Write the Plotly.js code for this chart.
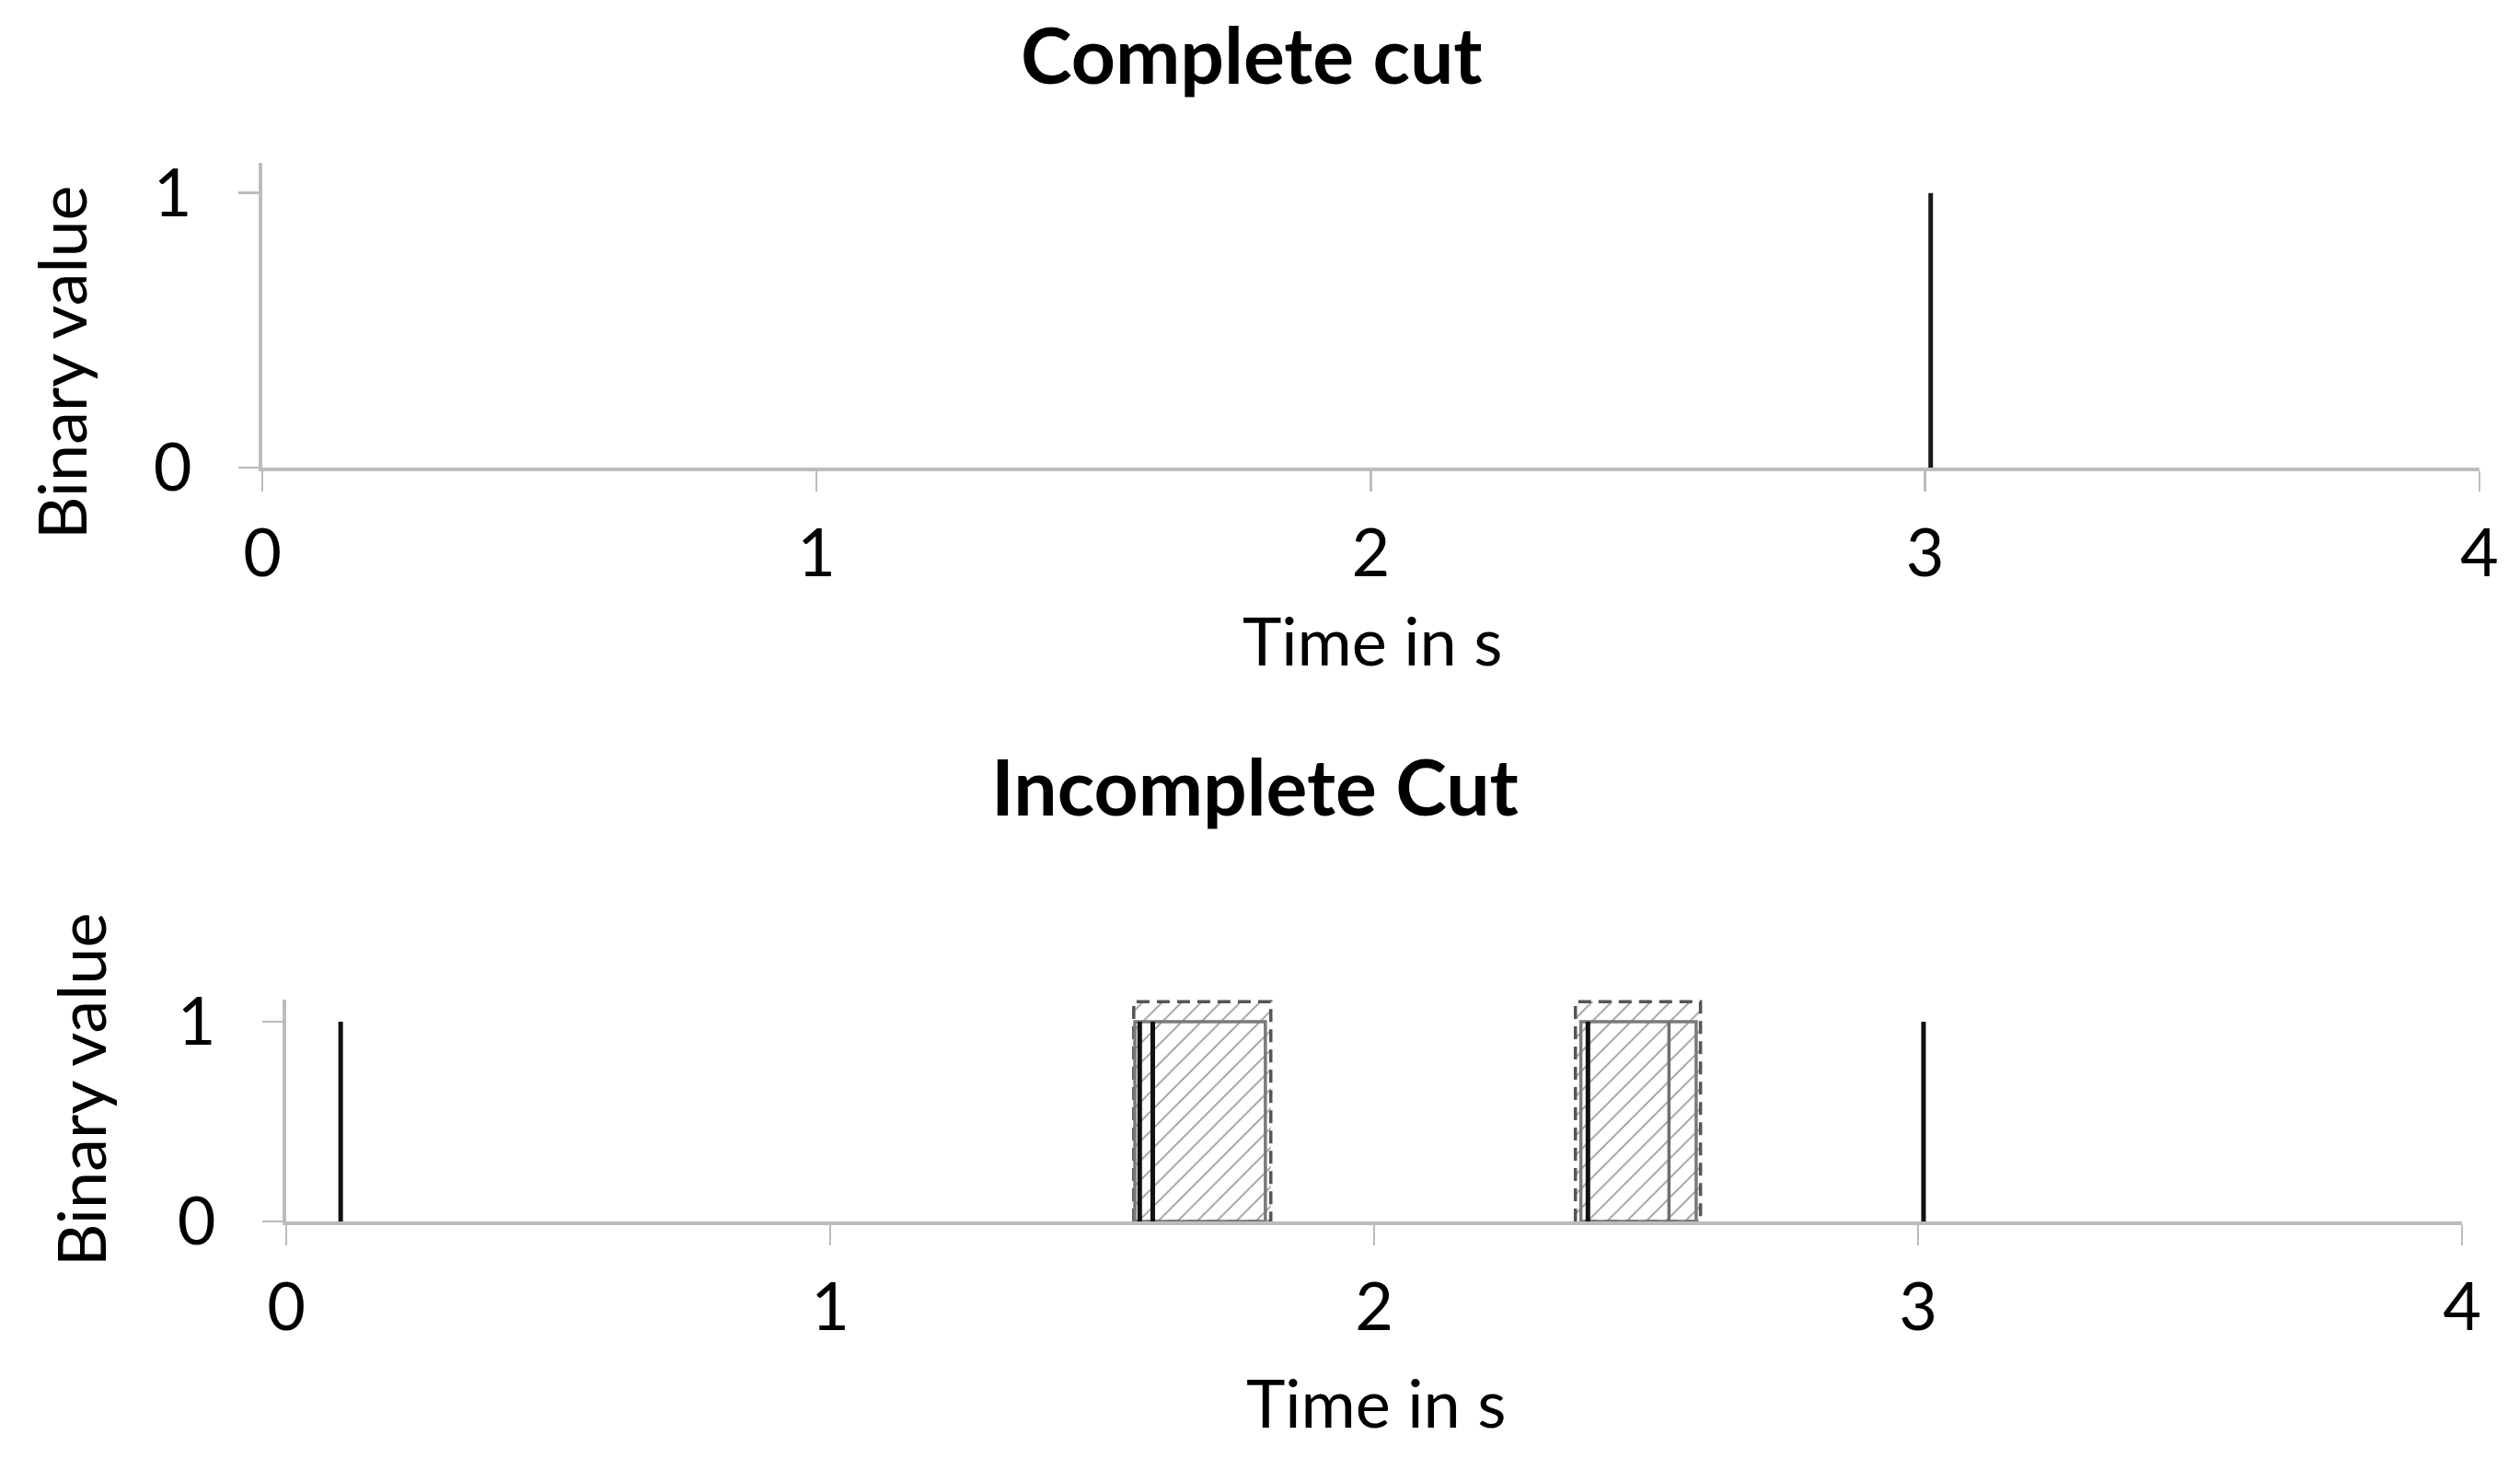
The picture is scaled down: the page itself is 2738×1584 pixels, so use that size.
<!DOCTYPE html>
<html>
<head>
<meta charset="utf-8">
<script src="https://cdn.plot.ly/plotly-3.0.1.min.js"></script>
<style>
  html, body { margin: 0; padding: 0; background: #fff; }
  #chart { width: 2738px; height: 1584px; }
</style>
</head>
<body>
<div id="chart"></div>
<script>
// Complete cut: single pulse
const completeSpikeTimes = [3.01];

// Incomplete cut: black pulses, grey pulse, pulse blocks and dashed windows
const incompleteSpikeTimes = [0.10, 1.569, 1.593, 2.393, 3.01];
const incompleteGreySpikeTimes = [2.542];
const blockStart = [1.560, 2.380];
const blockEnd = [1.800, 2.592];
const blockValue = [1, 1];
const windowStart = [1.558, 2.370];
const windowEnd = [1.810, 2.600];
const windowValue = [1.1, 1.1];

const timeTicks = [0, 1, 2, 3, 4];
const binaryTicks = [0, 1];

const FONT = "Lato, 'Noto Sans', sans-serif";
const AXIS_GREY = "#bcbcbc";

// vertical impulses from 0 to 1, gaps between them
function spikeXY(times) {
    const x = [], y = [];
    times.forEach(t => { x.push(t, t, null); y.push(0, 1, null); });
    return { x, y };
}

// closed rectangles from start/end/height arrays
function boxXY(starts, ends, heights) {
    const x = [], y = [];
    starts.forEach((s, i) => {
        const e = ends[i], h = heights[i];
        x.push(s, s, e, e, s, null);
        y.push(0, h, h, 0, 0, null);
    });
    return { x, y };
}

const topSpikes = spikeXY(completeSpikeTimes);
const botSpikes = spikeXY(incompleteSpikeTimes);
const botGrey = spikeXY(incompleteGreySpikeTimes);
const windows = boxXY(windowStart, windowEnd, windowValue);
const blocks = boxXY(blockStart, blockEnd, blockValue);

const data = [
    {
        x: topSpikes.x, y: topSpikes.y, xaxis: "x", yaxis: "y",
        type: "scatter", mode: "lines", hoverinfo: "skip",
        line: { color: "#1a1a1a", width: 5 },
    },
    {
        x: windows.x, y: windows.y, xaxis: "x2", yaxis: "y2",
        type: "scatter", mode: "lines", fill: "toself", hoverinfo: "skip",
        fillcolor: "rgba(0,0,0,0)",
        fillpattern: { shape: "/", fgcolor: "#9a9a9a", bgcolor: "#ffffff", size: 15, solidity: 0.12 },
        line: { color: "#555555", width: 3.5, dash: "14px,8px" },
    },
    {
        x: blocks.x, y: blocks.y, xaxis: "x2", yaxis: "y2",
        type: "scatter", mode: "lines", hoverinfo: "skip",
        line: { color: "#7a7a7a", width: 3.5 },
    },
    {
        x: botGrey.x, y: botGrey.y, xaxis: "x2", yaxis: "y2",
        type: "scatter", mode: "lines", hoverinfo: "skip",
        line: { color: "#6f6f6f", width: 3.5 },
    },
    {
        x: botSpikes.x, y: botSpikes.y, xaxis: "x2", yaxis: "y2",
        type: "scatter", mode: "lines", hoverinfo: "skip",
        line: { color: "#111111", width: 5 },
    },
];

function xAxis(domain, anchor) {
    return {
        domain: domain, anchor: anchor, range: [0, 4],
        tickvals: timeTicks, ticks: "outside", ticklen: 22, tickwidth: 2.5, tickcolor: AXIS_GREY,
        showline: true, linecolor: AXIS_GREY, linewidth: 4,
        showgrid: false, zeroline: false, fixedrange: true,
        ticklabelstandoff: 6,
        tickfont: { family: FONT, size: 72, color: "#000" },
    };
}

function yAxis(domain, anchor) {
    return {
        domain: domain, anchor: anchor, range: [0, 1.11],
        tickvals: binaryTicks, ticks: "outside", ticklen: 22, tickwidth: 2.5, tickcolor: AXIS_GREY,
        showline: true, linecolor: AXIS_GREY, linewidth: 4,
        showgrid: false, zeroline: false, fixedrange: true,
        ticklabelstandoff: 36,
        tickfont: { family: FONT, size: 72, color: "#000" },
    };
}

// inside half of the crossing y ticks
function yCross(overlay, anchor) {
    return {
        overlaying: overlay, anchor: anchor, range: [0, 1.11],
        tickvals: binaryTicks, ticks: "inside", ticklen: 20, tickwidth: 2.5, tickcolor: AXIS_GREY,
        showticklabels: false, showline: false, showgrid: false, zeroline: false, fixedrange: true,
    };
}

const titleFont = { family: FONT, size: 84, color: "#000", weight: "bold" };
const labelFont = { family: FONT, size: 72, color: "#000" };

const layout = {
    width: 2738, height: 1584,
    margin: { l: 0, r: 0, t: 0, b: 0 },
    paper_bgcolor: "#fff", plot_bgcolor: "#fff",
    showlegend: false,
    xaxis: xAxis([0.1041, 0.9839], "y"),
    yaxis: yAxis([0.6793, 0.8883], "x"),
    xaxis2: xAxis([0.1136, 0.9770], "y2"),
    yaxis2: yAxis([0.1622, 0.3144], "x2"),
    yaxis3: yCross("y", "x"),
    yaxis4: yCross("y2", "x2"),
    annotations: [
        { text: "Complete cut", xref: "paper", yref: "paper", x: 0.4967, y: 0.963,
          xanchor: "center", yanchor: "middle", showarrow: false, font: titleFont },
        { text: "Incomplete Cut", xref: "paper", yref: "paper", x: 0.498, y: 0.461,
          xanchor: "center", yanchor: "middle", showarrow: false, font: titleFont },
        { text: "Time in s", xref: "paper", yref: "paper", x: 0.5446, y: 0.5615,
          xanchor: "center", yanchor: "middle", showarrow: false, font: labelFont },
        { text: "Time in s", xref: "paper", yref: "paper", x: 0.546, y: 0.0385,
          xanchor: "center", yanchor: "middle", showarrow: false, font: labelFont },
        { text: "Binary value", xref: "paper", yref: "paper", x: 0.0241, y: 0.7519, textangle: -90,
          xanchor: "center", yanchor: "middle", showarrow: false, font: labelFont },
        { text: "Binary value", xref: "paper", yref: "paper", x: 0.0318, y: 0.2525, textangle: -90,
          xanchor: "center", yanchor: "middle", showarrow: false, font: labelFont },
    ],
};

Plotly.newPlot("chart", data, layout, { staticPlot: true, displayModeBar: false });
</script>
</body>
</html>
